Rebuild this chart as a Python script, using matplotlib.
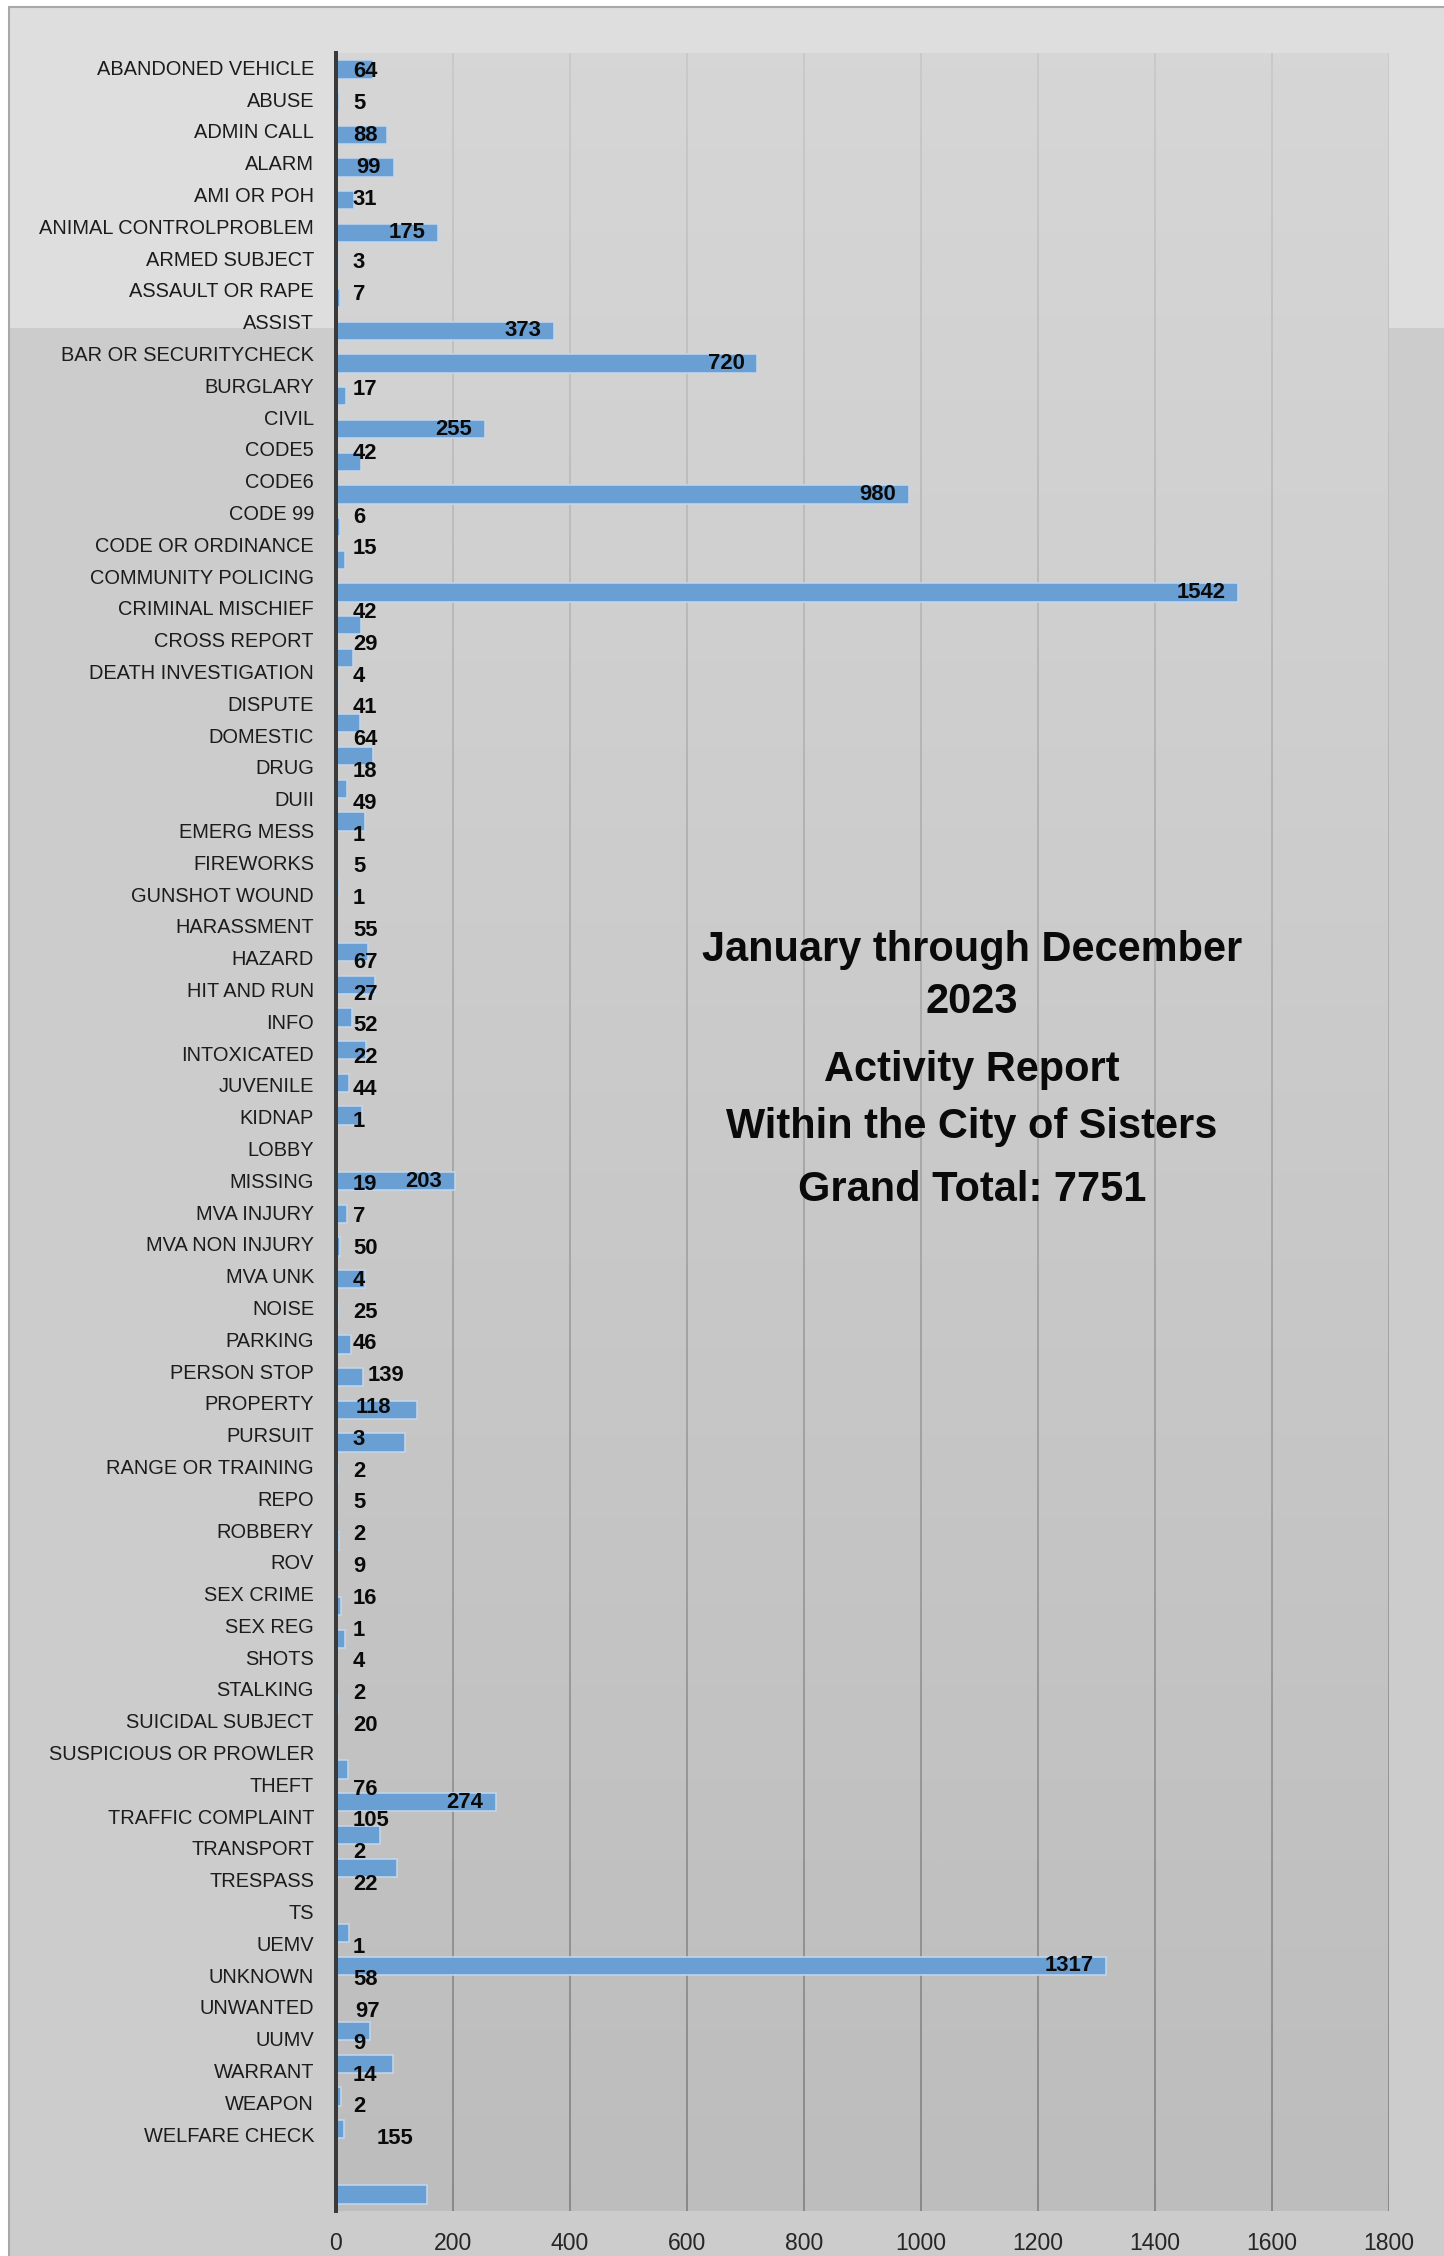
import numpy as np
import matplotlib
matplotlib.use("Agg")
import matplotlib.pyplot as plt
from matplotlib import font_manager
from matplotlib.collections import LineCollection
from matplotlib.patches import Rectangle
from matplotlib.colors import LinearSegmentedColormap, to_rgb

# ---------------- data ----------------
categories = [
    "ABANDONED VEHICLE", "ABUSE", "ADMIN CALL", "ALARM", "AMI OR POH",
    "ANIMAL CONTROLPROBLEM", "ARMED SUBJECT", "ASSAULT OR RAPE", "ASSIST",
    "BAR OR SECURITYCHECK", "BURGLARY", "CIVIL", "CODE5", "CODE6", "CODE 99",
    "CODE OR ORDINANCE", "COMMUNITY POLICING", "CRIMINAL MISCHIEF",
    "CROSS REPORT", "DEATH INVESTIGATION", "DISPUTE", "DOMESTIC", "DRUG",
    "DUII", "EMERG MESS", "FIREWORKS", "GUNSHOT WOUND", "HARASSMENT",
    "HAZARD", "HIT AND RUN", "INFO", "INTOXICATED", "JUVENILE", "KIDNAP",
    "LOBBY", "MISSING", "MVA INJURY", "MVA NON INJURY", "MVA UNK", "NOISE",
    "PARKING", "PERSON STOP", "PROPERTY", "PURSUIT", "RANGE OR TRAINING",
    "REPO", "ROBBERY", "ROV", "SEX CRIME", "SEX REG", "SHOTS", "STALKING",
    "SUICIDAL SUBJECT", "SUSPICIOUS OR PROWLER", "THEFT", "TRAFFIC COMPLAINT",
    "TRANSPORT", "TRESPASS", "TS", "UEMV", "UNKNOWN", "UNWANTED", "UUMV",
    "WARRANT", "WEAPON", "WELFARE CHECK",
]
values = [
    64, 5, 88, 99, 31, 175, 3, 7, 373, 720,
    17, 255, 42, 980, 6, 15, 1542, 42, 29, 4,
    41, 64, 18, 49, 1, 5, 1, 55, 67, 27,
    52, 22, 44, 1, 203, 19, 7, 50, 4, 25,
    46, 139, 118, 3, 2, 5, 2, 9, 16, 1,
    4, 2, 20, 274, 76, 105, 2, 22, 1317, 1,
    58, 97, 9, 14, 2, 155,
]
x_ticks = [0, 200, 400, 600, 800, 1000, 1200, 1400, 1600, 1800]
title_lines = ["January through December", "2023", "Activity Report",
               "Within the City of Sisters", "Grand Total: 7751"]

# ---------------- layout ----------------
W, H, DPI = 1444, 2256, 100
def pt(px):
    return px * 72.0 / DPI

avail = {f.name for f in font_manager.fontManager.ttflist}
narrow = "Liberation Sans Narrow" in avail
cat_family = ["Liberation Sans Narrow", "DejaVu Sans"] if narrow else ["Liberation Sans", "DejaVu Sans"]
cat_size = pt(24) if narrow else pt(20)
main_family = ["Liberation Sans", "DejaVu Sans"]

fig = plt.figure(figsize=(W / DPI, H / DPI), dpi=DPI, facecolor="white")

# chart area background
fig.patches.append(Rectangle((9 / W, 0), 1, 1 - 7 / H, transform=fig.transFigure,
                             facecolor="#cccccc", edgecolor="none", zorder=-3))
fig.patches.append(Rectangle((9 / W, 1 - 328 / H), 1, (328 - 7) / H, transform=fig.transFigure,
                             facecolor="#dedede", edgecolor="none", zorder=-2))
fig.patches.append(Rectangle((9 / W, -0.01), 1, 1.01 - 7 / H, transform=fig.transFigure,
                             facecolor="none", edgecolor="#a8a8a8", lw=1.5, zorder=-1))

left_px, right_px, top_px, bot_px = 336, 1389, 53, 2211
ax = fig.add_axes([left_px / W, 1 - bot_px / H, (right_px - left_px) / W, (bot_px - top_px) / H])
ax.set_zorder(1)
ax.patch.set_alpha(0)
n = len(categories)

# plot-area gradient
grad = np.linspace(0, 1, 256).reshape(-1, 1)
cmap = LinearSegmentedColormap.from_list("pa", ["#d6d6d6", "#bdbdbd"])
ax.imshow(grad, aspect="auto", cmap=cmap, extent=(0, 1800, n - 0.5, -0.5),
          zorder=0, interpolation="bilinear")

# vertical gridlines with a top-to-bottom shade
c_top, c_bot = np.array(to_rgb("#c8c8c8")), np.array(to_rgb("#858585"))
nseg = 80
ys = np.linspace(-0.5, n - 0.5, nseg + 1)
segs, cols = [], []
for t in x_ticks[1:]:
    for k in range(nseg):
        segs.append([(t, ys[k]), (t, ys[k + 1])])
        cols.append(c_top + (c_bot - c_top) * (k / (nseg - 1)))
ax.add_collection(LineCollection(segs, colors=cols, linewidths=pt(1.8), zorder=1))

# bars
pos = np.arange(n)
ax.barh(pos, values, height=0.56, color="#6a9fd3", edgecolor="#c4d8ec",
        linewidth=1.1, zorder=3)

ax.set_xlim(0, 1800)
ax.set_ylim(n - 0.5, -0.5)

# axes styling
for s in ["top", "right", "bottom"]:
    ax.spines[s].set_visible(False)
ax.spines["left"].set_color("#3a3a3a")
ax.spines["left"].set_linewidth(pt(4))
ax.spines["left"].set_zorder(5)
ax.set_yticks([])
ax.set_xticks(x_ticks)
ax.set_xticklabels([str(t) for t in x_ticks], fontsize=pt(23), color="#262626",
                   family=main_family)
ax.tick_params(axis="x", length=0, pad=pt(21))

# category labels (their rows are slightly tighter than the bar rows)
label_step = 31.8 / 32.7
ytr = ax.get_yaxis_transform()
for i, c in enumerate(categories):
    ax.text(-22 / (right_px - left_px), i * label_step, c, transform=ytr,
            ha="right", va="center", fontsize=cat_size, family=cat_family,
            color="#1c1c1c")

# data labels
scale = (right_px - left_px) / 1800.0  # px per unit
for i, v in enumerate(values):
    s = str(v)
    w = 12.2 * len(s)
    lpx = max(17.0, v * scale - 13.0 - w)
    y = i if v >= 160 else i * label_step + 0.08
    ax.text(lpx / scale, y, s, ha="left", va="center", fontsize=pt(22),
            fontweight="bold", family=main_family, color="#0a0a0a", zorder=6)

# title block
title_y = [950, 1002, 1070, 1127, 1190]
for line, ypx in zip(title_lines, title_y):
    fig.text(972 / W, 1 - ypx / H, line, ha="center", va="center",
             fontsize=pt(41.5), fontweight="bold", family=main_family, color="#0a0a0a")

fig.savefig("out.png", dpi=DPI, facecolor=fig.get_facecolor())
